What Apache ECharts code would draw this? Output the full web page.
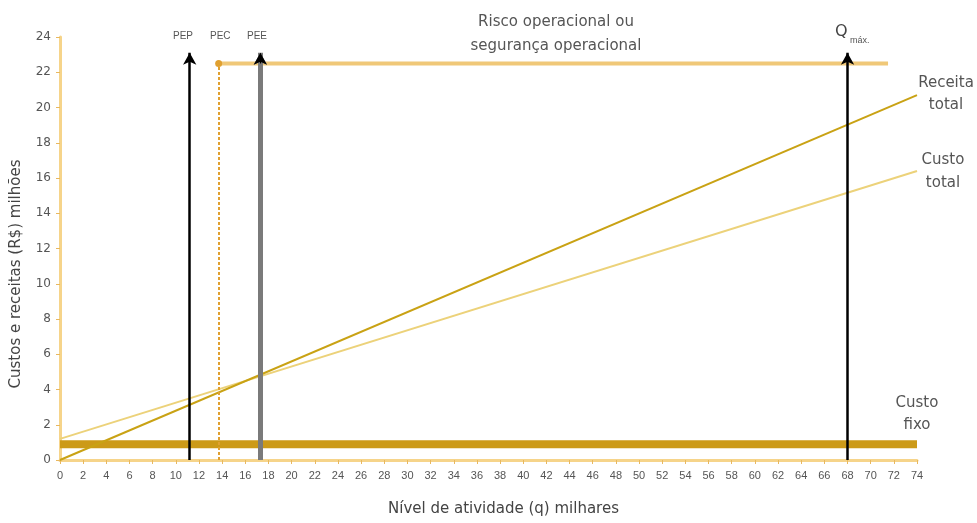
<!DOCTYPE html>
<html>
<head>
<meta charset="utf-8">
<script src="https://cdn.jsdelivr.net/npm/echarts@6/dist/echarts.min.js"></script>
<style>
  html, body { margin: 0; padding: 0; background: #fff; }
  #chart { width: 977px; height: 523px; }
</style>
</head>
<body>
<div id="chart"></div>
<script>
// linhas do gráfico (q em milhares, R$ em milhões)
const receitaTotal = [[0, 0], [74, 20.7]]
const custoTotal   = [[0, 1.2], [74, 16.4]]
const custoFixo    = [[0, 0.9], [74, 0.9]]
const riscoFaixa   = [[13.7, 22.5], [71.5, 22.5]]

// pontos de equilíbrio e capacidade máxima
const marcos = ['PEP', 'PEC', 'PEE', 'Qmáx']
const marcosX = [11.2, 13.7, 17.3, 68]
const topoSeta = 23.1

const font = 'Liberation Sans, Arial, sans-serif'
const fontLarga = '"DejaVu Sans", Verdana, sans-serif'
const chart = echarts.init(document.getElementById('chart'))

const estilos = {
  PEP:  { color: '#000', width: 2.5, type: 'solid' },
  PEC:  { color: '#e0a030', width: 2, type: [3, 2] },
  PEE:  { color: '#7a7a7a', width: 5, type: 'solid' },
  'Qmáx': { color: '#000', width: 2.5, type: 'solid' }
}

const setas = marcos.map((m, i) => {
  const s = estilos[m]
  return [
    { coord: [marcosX[i], 0], lineStyle: s, symbol: 'none' },
    { coord: [marcosX[i], m === 'PEC' ? riscoFaixa[0][1] : topoSeta],
      symbol: m === 'PEC' ? 'circle' : 'arrow',
      symbolSize: m === 'PEC' ? 7 : [10, 12] }
  ]
})
// ponta preta da seta do PEE
const iPEE = marcos.indexOf('PEE')
setas.push([
  { coord: [marcosX[iPEE], topoSeta - 0.6], lineStyle: { color: '#000', width: 1 }, symbol: 'none' },
  { coord: [marcosX[iPEE], topoSeta], symbol: 'arrow', symbolSize: [10, 12] }
])

chart.setOption({
  animation: false,
  grid: { left: 60, right: 60, top: 37, bottom: 63, outerBoundsMode: 'none' },
  xAxis: {
    type: 'value', min: 0, max: 74, interval: 2,
    name: 'Nível de atividade (q) milhares',
    nameLocation: 'middle', nameGap: 42,
    nameTextStyle: { color: '#444', fontSize: 15, fontFamily: fontLarga, padding: [0, 0, 0, 30] },
    axisLine: { lineStyle: { color: '#f6d48a', width: 3 } },
    axisTick: { show: true, length: 4, lineStyle: { color: '#e8b860' } },
    axisLabel: { color: '#555', fontSize: 11, fontFamily: font, margin: 10, interval: 0 },
    splitLine: { show: false }
  },
  yAxis: {
    type: 'value', min: 0, max: 24, interval: 2,
    axisLine: { show: true, lineStyle: { color: '#f6d48a', width: 3 } },
    axisTick: { show: true, length: 4, lineStyle: { color: '#e8b860' } },
    axisLabel: { color: '#555', fontSize: 12, fontFamily: fontLarga, margin: 9 },
    splitLine: { show: false }
  },
  series: [
    {
      type: 'line', data: custoFixo, symbol: 'none', z: 2,
      lineStyle: { color: '#cc9a18', width: 8 }
    },
    {
      type: 'line', data: riscoFaixa, symbol: 'none', z: 2,
      lineStyle: { color: '#f0c878', width: 4 }
    },
    {
      type: 'line', data: custoTotal, symbol: 'none', z: 3,
      lineStyle: { color: '#ecd27a', width: 2 }
    },
    {
      type: 'line', data: receitaTotal, symbol: 'none', z: 3,
      lineStyle: { color: '#c9a214', width: 2 }
    },
    {
      type: 'line', data: [], z: 5,
      markLine: {
        silent: true,
        symbol: ['none', 'arrow'], symbolSize: [10, 12],
        label: { show: false },
        data: setas
      }
    }
  ],
  graphic: [
    { type: 'text', x: 16, y: 274, rotation: Math.PI / 2,
      style: { text: 'Custos e receitas (R$) milhões', font: '15px ' + fontLarga, fill: '#444', align: 'center', verticalAlign: 'middle' } },
    { type: 'text', left: 173, top: 31, style: { text: 'PEP', font: '10px ' + font, fill: '#555' } },
    { type: 'text', left: 210, top: 31, style: { text: 'PEC', font: '10px ' + font, fill: '#555' } },
    { type: 'text', left: 247, top: 31, style: { text: 'PEE', font: '10px ' + font, fill: '#555' } },
    { type: 'text', left: 835, top: 24, style: { text: 'Q', font: '16px ' + fontLarga, fill: '#444' } },
    { type: 'text', left: 850, top: 36, style: { text: 'máx.', font: '9px ' + font, fill: '#555' } },
    { type: 'text', x: 556, y: 10, style: { text: 'Risco operacional ou\nsegurança operacional', font: '15px ' + fontLarga, fill: '#555', align: 'center', lineHeight: 24 } },
    { type: 'text', x: 946, y: 72, style: { text: 'Receita\ntotal', font: '15px ' + fontLarga, fill: '#555', align: 'center', lineHeight: 22 } },
    { type: 'text', x: 943, y: 149, style: { text: 'Custo\ntotal', font: '15px ' + fontLarga, fill: '#555', align: 'center', lineHeight: 23 } },
    { type: 'text', x: 917, y: 392, style: { text: 'Custo\nfixo', font: '15px ' + fontLarga, fill: '#555', align: 'center', lineHeight: 22 } }
  ]
})
</script>
</body>
</html>
